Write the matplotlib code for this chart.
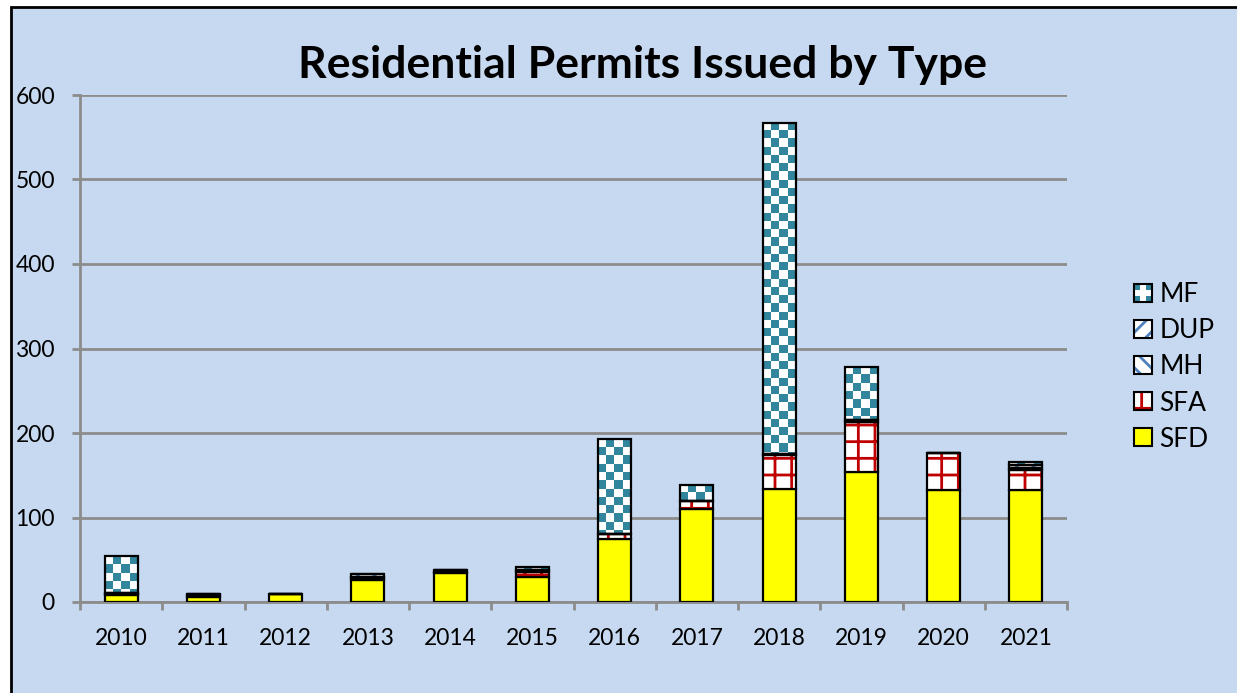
import numpy as np
import matplotlib
matplotlib.use("Agg")
import matplotlib.pyplot as plt
from matplotlib.patches import Rectangle, Patch
from matplotlib.legend_handler import HandlerBase

plt.rcParams['font.family'] = ['Lato', 'DejaVu Sans']

# ## Data
years = ['2010', '2011', '2012', '2013', '2014', '2015',
         '2016', '2017', '2018', '2019', '2020', '2021']
sfd = [8, 6, 10, 26, 34, 29, 75, 110, 134, 154, 133, 133]
sfa = [2, 2, 0, 2, 2, 7, 5, 9, 40, 59, 43, 23]
mh = [1, 1, 0, 2, 2, 2, 1, 0, 1, 2, 0, 2]
dup = [0, 0, 0, 3, 0, 0, 0, 0, 0, 0, 0, 4]
mf = [43, 0, 0, 0, 0, 4, 112, 20, 392, 63, 0, 4]
y_ticks = [0, 100, 200, 300, 400, 500, 600]

# ## Styles
bg = '#c6d9f0'
teal = '#31859c'
red = '#c00000'
blue = '#4f81bd'
grey = '#8c8c8c'
width = 0.4
edge_lw = 1.6
plt.rcParams['hatch.linewidth'] = 2.0

fig = plt.figure(figsize=(12.37, 6.93), dpi=100)
fig.patch.set_facecolor('white')
# light blue chart area with black border on left and top
fig.patches.append(Rectangle((11 / 1237, -0.1), 1.2, 1.1 - 7 / 693,
                             transform=fig.transFigure, facecolor=bg,
                             edgecolor='black', linewidth=2, zorder=-5))
ax = fig.add_axes([80 / 1237, 1 - 602 / 693, 987 / 1237, 507 / 693])
ax.set_facecolor('none')

x = np.arange(len(years))
sfd_a = np.array(sfd)
sfa_a = np.array(sfa)
mh_a = np.array(mh)
dup_a = np.array(dup)
mf_a = np.array(mf)

# SFD
ax.bar(x, sfd_a, width, color='yellow', edgecolor='black', lw=edge_lw, zorder=3)
# SFA: red grid hatch, black outline drawn on top
b = sfd_a
ax.bar(x, sfa_a, width, bottom=b, facecolor='white', edgecolor=red,
       hatch='+', lw=0, zorder=3)
ax.bar(x, sfa_a, width, bottom=b, facecolor='none', edgecolor='black',
       lw=edge_lw, zorder=4)
# MH
b = b + sfa_a
ax.bar(x, mh_a, width, bottom=b, facecolor='white', edgecolor=blue,
       hatch='\\\\', lw=0, zorder=3)
ax.bar(x, mh_a, width, bottom=b, facecolor='none', edgecolor='black',
       lw=edge_lw, zorder=4)
# DUP
b = b + mh_a
ax.bar(x, dup_a, width, bottom=b, facecolor='white', edgecolor=blue,
       hatch='//', lw=0, zorder=3)
ax.bar(x, dup_a, width, bottom=b, facecolor='none', edgecolor='black',
       lw=edge_lw, zorder=4)
# MF: checker pattern, drawn as a clipped image inside each bar
b = b + dup_a
mf_bars = ax.bar(x, mf_a, width, bottom=b, facecolor='white', lw=0, zorder=3)
ax.bar(x, mf_a, width, bottom=b, facecolor='none', edgecolor='black',
       lw=edge_lw, zorder=4)

cell_w = width / 4
cell_h = cell_w * (987 / len(years)) / 507 * 600
cmap = matplotlib.colors.ListedColormap(['white', teal])
for rect in mf_bars:
    h = rect.get_height()
    if h <= 0:
        continue
    x0, y0 = rect.get_xy()
    top = y0 + h
    ny = int(np.ceil(h / cell_h))
    img = (np.indices((ny, 4)).sum(axis=0) % 2).astype(float)
    im = ax.imshow(img, cmap=cmap, extent=(x0, x0 + width, top - ny * cell_h, top),
                   origin='upper', aspect='auto', interpolation='nearest',
                   zorder=3.5)
    im.set_clip_path(rect)

ax.set_xlim(-0.5, len(years) - 0.5)
ax.set_ylim(0, 600)

# axes, grid, ticks
for s in ['top', 'right']:
    ax.spines[s].set_visible(False)
for s in ['left', 'bottom']:
    ax.spines[s].set_color(grey)
    ax.spines[s].set_linewidth(2)
ax.set_yticks(y_ticks)
ax.yaxis.grid(True, color=grey, lw=2, zorder=1)
ax.set_axisbelow(True)
ax.tick_params(axis='y', length=6, width=2, color=grey, labelsize=16.5, pad=12)
ax.set_xticks(np.arange(len(years) + 1) - 0.5)
ax.set_xticklabels([])
ax.tick_params(axis='x', which='major', length=6, width=2, color=grey)
ax.set_xticks(x, minor=True)
ax.set_xticklabels(years, minor=True)
ax.tick_params(axis='x', which='minor', length=0, labelsize=16.5, pad=18.5)

fig.text(643 / 1237, 1 - 65 / 693, 'Residential Permits Issued by Type',
         ha='center', va='center', fontsize=32, fontweight='bold')


# legend: checker icon for MF
class CheckerHandler(HandlerBase):
    def create_artists(self, legend, orig_handle, xdescent, ydescent,
                       width, height, fontsize, trans):
        arts = [Rectangle((-xdescent, -ydescent), width, height,
                          facecolor='white', edgecolor='none', transform=trans)]
        for i in range(3):
            for j in range(3):
                if (i + j) % 2 == 0 and not (i == 1 and j == 1):
                    arts.append(Rectangle((-xdescent + i * width / 3, -ydescent + j * height / 3),
                                          width / 3, height / 3, facecolor=teal,
                                          edgecolor='none', transform=trans))
        arts.append(Rectangle((-xdescent, -ydescent), width, height,
                              facecolor='none', edgecolor='black', lw=1.5,
                              transform=trans))
        return arts


mf_handle = Patch(facecolor=teal)
outline = Patch(facecolor='none', edgecolor='black', lw=1.5)
handles = [mf_handle,
           (Patch(facecolor='white', edgecolor=blue, hatch='//', lw=0), outline),
           (Patch(facecolor='white', edgecolor=blue, hatch='\\\\', lw=0), outline),
           (Patch(facecolor='white', edgecolor=red, hatch='+', lw=0), outline),
           Patch(facecolor='yellow', edgecolor='black', lw=1.5)]
labels = ['MF', 'DUP', 'MH', 'SFA', 'SFD']
fig.legend(handles, labels, loc='center left',
           bbox_to_anchor=(1110 / 1237, 1 - 367 / 693), frameon=False,
           fontsize=19, handlelength=0.68, handleheight=0.68,
           handletextpad=0.3, labelspacing=0.42,
           handler_map={mf_handle: CheckerHandler()})

fig.savefig('out.png', dpi=100)
